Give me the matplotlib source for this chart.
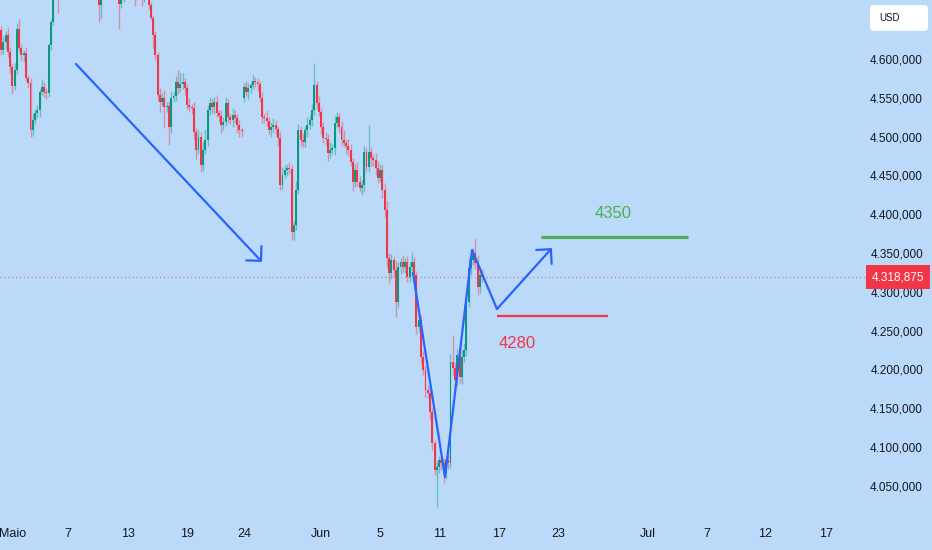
import matplotlib
matplotlib.use("Agg")
import matplotlib.pyplot as plt
from matplotlib.patches import FancyArrowPatch, FancyBboxPatch
from matplotlib.transforms import blended_transform_factory

# ---------------- data ----------------
closes = [
    # segment A
    4612, 4622, 4631, 4609, 4590, 4565, 4586, 4639, 4614, 4605,
    4608, 4576, 4569, 4508, 4521, 4530, 4534, 4557, 4564, 4557,
    4556, 4618, 4648, 4682, 4702,
    # segment B (mostly above the visible range)
    4690, 4728, 4740, 4747, 4753, 4740, 4734, 4747, 4728, 4721,
    4734, 4715, 4708, 4721, 4702, 4695, 4689, 4682, 4670, 4682,
    4695, 4708, 4715, 4702, 4695, 4689, 4682, 4671, 4680, 4695,
    4708, 4702, 4695, 4689, 4686, 4695, 4689, 4680, 4689, 4682,
    4670, 4653,
    # segment C
    4631, 4605, 4554, 4545, 4550, 4538, 4539, 4512, 4550, 4552,
    4570, 4563, 4568, 4570, 4563, 4541, 4538, 4537, 4506, 4483,
    4500, 4463, 4483, 4496, 4534, 4543, 4538, 4545, 4530, 4527,
    4515, 4519, 4543, 4525, 4521, 4528, 4524, 4515, 4508, 4507,
    # segment D
    4564, 4557, 4563, 4566, 4572, 4570, 4568, 4550, 4525, 4524,
    4520, 4508, 4512, 4515, 4510, 4498, 4438, 4451, 4457, 4460,
    4458, 4377, 4386, 4431, 4508, 4496, 4493, 4508, 4515, 4521,
    4534, 4566, 4543, 4532, 4512, 4498, 4497, 4479, 4483, 4485,
    4518, 4525, 4512, 4496, 4492, 4488, 4483, 4467, 4442, 4457,
    4442, 4434, 4438, 4480, 4461, 4480, 4472, 4470, 4460, 4447,
    4457, 4431, 4405, 4344,
    # segment E
    4324, 4341, 4328, 4287, 4332, 4338, 4332, 4338, 4319, 4332,
    4338, 4322, 4255, 4264, 4216, 4199, 4173, 4170, 4145, 4105,
    4070, 4074, 4083, 4079, 4066, 4083, 4079, 4210, 4202, 4186,
    4219, 4190, 4216, 4225, 4287, 4331, 4341, 4350, 4337, 4306,
    4322, 4318.875,
]
wick_up = [
    6, 8, 5, 10, 6, 4, 9, 7, 12, 5, 4, 8, 3, 6, 9, 5, 7, 4, 10, 6, 5, 3, 4, 6, 8,
    5, 4, 6, 3, 5, 8, 4, 6, 5, 7, 4, 6, 5, 3, 8, 5, 4, 6, 3, 5,
    7, 4, 6, 5, 3, 6, 4, 5, 7, 4, 6, 5, 3, 8, 4, 6, 5, 7, 4, 6, 5, 4,
    3, 5, 4, 8, 6, 10, 5, 7, 9, 6, 8, 16, 14, 12, 6, 5, 9, 4, 7, 5,
    8, 6, 10, 14, 7, 8, 5, 6, 9, 4, 7, 6, 8, 5, 4, 9, 6, 5, 7, 4,
    5, 8, 6, 4, 7, 5, 6, 4, 8, 6, 10, 5, 7, 9, 6, 4, 8, 10, 6, 5,
    7, 6, 5, 12, 8, 6, 9, 5, 10, 7, 8, 29, 6, 9, 5, 7, 8, 6, 10, 5,
    9, 7, 6, 8, 12, 5, 9, 7, 6, 8, 10, 7, 6, 8, 5, 35, 7, 6, 9, 8,
    8, 6, 9, 12,
    6, 8, 5, 12, 7, 6, 9, 5, 8, 6, 13, 7, 5, 9, 6, 8, 5, 7, 6, 5,
    4, 8, 6, 5, 7, 6, 9, 10, 34, 8, 7, 12, 9, 9, 10, 12, 8, 7, 19, 10,
    6, 8,
]
wick_dn = [
    7, 5, 9, 6, 8, 10, 5, 6, 4, 7, 9, 5, 6, 8, 7, 5, 6, 9, 4, 6, 8, 5, 6, 4, 5,
    31, 5, 4, 6, 5, 7, 4, 6, 5, 3, 6, 4, 5, 7, 4, 6, 5, 4, 22, 18,
    5, 6, 4, 7, 5, 6, 4, 32, 5, 6, 4, 7, 5, 6, 18, 5, 4, 12, 6, 5, 6, 3,
    17, 6, 8, 13, 5, 27, 6, 23, 7, 5, 6, 8, 5, 7, 9, 6, 5, 8, 10, 12,
    6, 9, 7, 5, 8, 6, 7, 9, 5, 8, 10, 7, 6, 8, 5, 9, 6, 10, 8, 7,
    6, 5, 8, 7, 5, 6, 9, 5, 8, 6, 7, 5, 9, 6, 8, 10, 7, 6, 5, 8,
    6, 10, 10, 7, 5, 8, 6, 7, 9, 5, 8, 6, 7, 5, 9, 6, 8, 10, 7, 5,
    9, 6, 8, 7, 6, 10, 8, 5, 12, 7, 6, 5, 9, 8, 7, 6, 10, 8, 9, 7,
    6, 10, 8, 12,
    13, 7, 8, 20, 6, 9, 7, 8, 6, 7, 5, 8, 10, 7, 9, 6, 8, 7, 10, 9,
    6, 47, 8, 9, 12, 7, 8, 6, 9, 10, 8, 7, 9, 6, 8, 7, 9, 6, 8, 10,
    7, 6,
]
first_open = 4637
gap_opens = {107: 4550}

last_price = 4318.875
y_ticks = [4050, 4100, 4150, 4200, 4250, 4300, 4350, 4400, 4450, 4500, 4550, 4600]
x_tick_pos = [5.0, 29.5, 55.9, 81.9, 107.0, 141.0, 167.0, 193.4, 219.4, 245.4,
              285.0, 311.0, 336.6, 363.4]
x_tick_labels = ["Maio", "7", "13", "19", "24", "Jun", "5", "11", "17", "23",
                 "Jul", "7", "12", "17"]

# drawings (bar index, price)
arrow1 = [(33.0, 4593.6), (115.0, 4338.4)]
zigzag = [(181.5, 4324.2), (195.6, 4061.3), (207.5, 4353.8), (218.5, 4277.8), (242.7, 4356.4)]
green_level = (237.9, 302.6, 4370.6)
red_level = (218.5, 267.4, 4268.8)
green_text = (269.6, 4401.5, "4350")
red_text = (227.3, 4234.0, "4280")

# ---------------- style ----------------
BG = "#bbdafa"
UP = "#089981"
DN = "#f23645"
BLUE = "#2962ff"
GREEN = "#4caf50"
TXT = "#131722"
FONT = ["Liberation Sans", "DejaVu Sans"]
plt.rcParams["font.family"] = FONT

n = len(closes)
opens = [first_open] + closes[:-1]
for k, v in gap_opens.items():
    opens[k] = v
idx = list(range(n))
highs = [max(o, c) + w for o, c, w in zip(opens, closes, wick_up)]
lows = [min(o, c) - w for o, c, w in zip(opens, closes, wick_dn)]
cols = [UP if c >= o else DN for o, c in zip(opens, closes)]

fig = plt.figure(figsize=(9.32, 5.5), dpi=100)
fig.patch.set_facecolor(BG)
ax = fig.add_axes([0, 32 / 550, 866 / 932, 518 / 550])
ax.set_facecolor(BG)
for s in ax.spines.values():
    s.set_visible(False)

ax.set_xlim(-0.44, 381.05)
ax.set_ylim(4008.5, 4676.0)

# candles
ax.vlines(idx, lows, highs, colors=cols, linewidth=1.0, alpha=0.45, zorder=2)
bottoms = [min(o, c) for o, c in zip(opens, closes)]
heights = [max(abs(c - o), 1.3) for o, c in zip(opens, closes)]
ax.bar(idx, heights, bottom=bottoms, width=0.85, color=cols, linewidth=0, zorder=3)

# last price dotted line
ax.axhline(last_price, color=DN, lw=0.8, ls=(0, (1, 2.5)), alpha=0.7, zorder=1)

# blue drawings
a1 = FancyArrowPatch(arrow1[0], arrow1[1], arrowstyle="->,head_length=7.5,head_width=7.5",
                     mutation_scale=1, color=BLUE, lw=1.6, zorder=5, shrinkA=0, shrinkB=0)
ax.add_patch(a1)
zx = [p[0] for p in zigzag[:-1]]
zy = [p[1] for p in zigzag[:-1]]
ax.plot(zx, zy, color=BLUE, lw=1.6, zorder=5, solid_capstyle="round", solid_joinstyle="round")
a2 = FancyArrowPatch(zigzag[-2], zigzag[-1], arrowstyle="->,head_length=7.5,head_width=7.5",
                     mutation_scale=1, color=BLUE, lw=1.6, zorder=5, shrinkA=0, shrinkB=0)
ax.add_patch(a2)

# levels
ax.plot([green_level[0], green_level[1]], [green_level[2]] * 2, color=GREEN, lw=2.3, zorder=4,
        solid_capstyle="butt")
ax.plot([red_level[0], red_level[1]], [red_level[2]] * 2, color=DN, lw=1.6, zorder=4,
        solid_capstyle="butt")
ax.text(green_text[0], green_text[1], green_text[2], color=GREEN, fontsize=12,
        ha="center", va="center")
ax.text(red_text[0], red_text[1], red_text[2], color=DN, fontsize=12,
        ha="center", va="center")

# axes ticks
def fmt(v):
    s = f"{v:,.3f}"  # 4,600.000
    s = s.replace(",", "X").replace(".", ",").replace("X", ".")
    return s

ax.yaxis.tick_right()
ax.set_yticks(y_ticks)
ax.set_yticklabels([fmt(v) for v in y_ticks])
ax.tick_params(axis="y", length=0, pad=41, labelsize=8.5, labelcolor=TXT)
for lab in ax.get_yticklabels():
    lab.set_horizontalalignment("right")

ax.set_xticks(x_tick_pos)
ax.set_xticklabels(x_tick_labels)
ax.tick_params(axis="x", length=0, pad=7, labelsize=9, labelcolor=TXT)

# current price label on the scale
trans = blended_transform_factory(fig.transFigure, ax.transData)
ax.text(898 / 932, last_price, fmt(last_price), transform=trans, color="white",
        fontsize=8.5, ha="center", va="center", clip_on=False, zorder=10,
        bbox=dict(boxstyle="square,pad=0.5", fc=DN, ec="none"))

# USD box
box = FancyBboxPatch((8.70, 5.19), 0.58, 0.26, boxstyle="round,pad=0,rounding_size=0.04",
                     transform=fig.dpi_scale_trans, fc="white", ec="none", zorder=5)
fig.add_artist(box)
fig.text(8.79, 5.32, "USD", transform=fig.dpi_scale_trans, fontsize=7, color=TXT,
         ha="left", va="center", zorder=6)

fig.savefig("out.png", dpi=100, facecolor=BG)
